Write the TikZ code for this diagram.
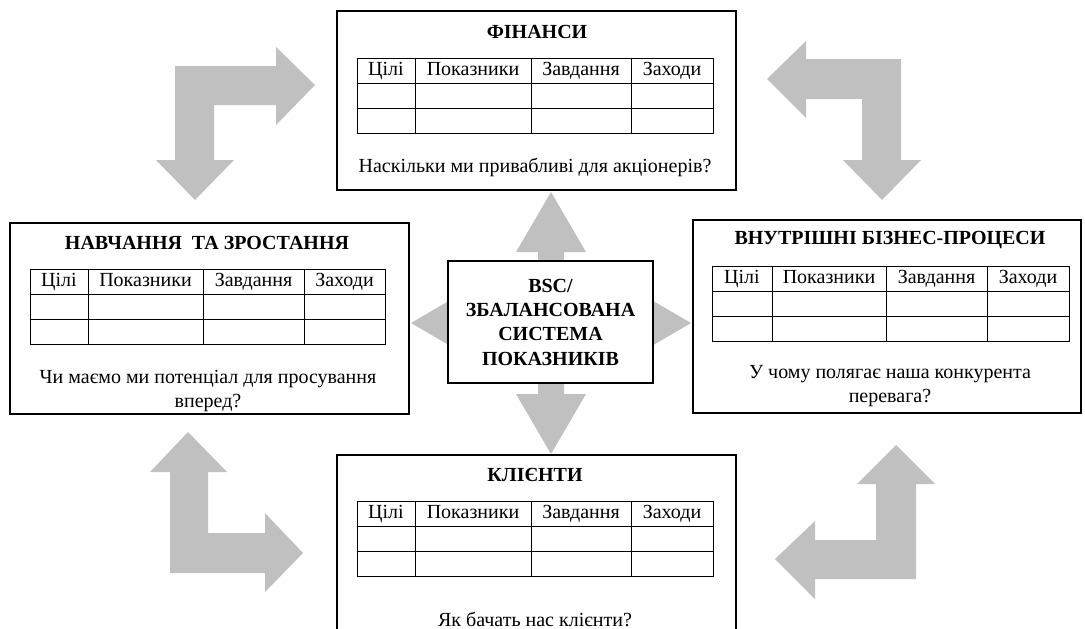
\documentclass[tikz,border=0pt]{standalone}
\usepackage{fontspec}
\setmainfont{Liberation Serif}
\usepackage{array}
\usetikzlibrary{positioning}

\definecolor{arrowgray}{HTML}{C0C0C0}
\newcolumntype{C}[1]{>{\centering\arraybackslash}p{#1}}
\newcommand{\bsctable}[4]{%
  \setlength{\tabcolsep}{0pt}\setlength{\arrayrulewidth}{0.6pt}%
  \begin{tabular}{|C{#1}|C{#2}|C{#3}|C{#4}|}
    \hline
    Цілі & Показники & Завдання & Заходи \\ \hline
     & & & \\ \hline
     & & & \\ \hline
  \end{tabular}}

\tikzset{
  panel/.style={draw, line width=0.8pt, inner sep=0pt},
  heading/.style={font=\fontsize{12}{14.4}\selectfont\bfseries, inner sep=0pt},
  question/.style={align=center, inner sep=0pt},
  grid/.style={inner sep=0pt},
  blockarrow/.style={fill=arrowgray},
}

\begin{document}
\begin{tikzpicture}[x=0.6pt, y=-0.6pt, font=\fontsize{12}{14.4}\selectfont]
    \useasboundingbox (0,0) rectangle (1085,628);
    \clip (0,0) rectangle (1085,628);

    % corner arrows
    \fill[blockarrow] (195,200) -- (234,160) -- (214,160) -- (214,105) -- (276,105) -- (276,125)
        -- (315,85) -- (276,47) -- (276,66) -- (175,66) -- (175,160) -- (156,160) -- cycle;
    \fill[blockarrow] (767,79) -- (806,41) -- (806,59) -- (901,59) -- (901,160) -- (921,160)
        -- (882,200) -- (843,160) -- (862,160) -- (862,99) -- (806,99) -- (806,118) -- cycle;
    \fill[blockarrow] (188,432) -- (227,472) -- (208,472) -- (208,533) -- (265,533) -- (265,513)
        -- (303,553) -- (265,592) -- (265,573) -- (170,573) -- (170,472) -- (150,472) -- cycle;
    \fill[blockarrow] (896,445) -- (935,484) -- (916,484) -- (916,579) -- (815,579) -- (815,599)
        -- (775,559) -- (815,521) -- (815,540) -- (876,540) -- (876,484) -- (857,484) -- cycle;

    % four-way arrow behind the centre
    \fill[blockarrow] (551,192) -- (586,252) -- (564,252) -- (564,310) -- (631,310) -- (631,288)
        -- (691,323) -- (631,358) -- (631,336) -- (564,336) -- (564,394) -- (586,394)
        -- (551,454) -- (516,394) -- (538,394) -- (538,336) -- (471,336) -- (471,358)
        -- (411,323) -- (471,288) -- (471,310) -- (538,310) -- (538,252) -- (516,252) -- cycle;

    % perspectives
    \node[panel, fill=white, minimum width=239.4pt, minimum height=107.4pt] (fin) at (536.5,100.5) {};
    \node[heading] (fintitle) at (537,32) {ФІНАНСИ};
    \node[grid] (fintab) at (535,95.5) {\bsctable{34.2pt}{69pt}{59.4pt}{48.6pt}};
    \node[question] (finq) at (535,167) {Наскільки ми привабливі для акціонерів?};

    \node[panel, fill=white, minimum width=239.4pt, minimum height=114.6pt] (learn) at (209.5,318.5) {};
    \node[heading] (learntitle) at (207,243) {НАВЧАННЯ\ \ ТА ЗРОСТАННЯ};
    \node[grid] (learntab) at (207.5,307) {\bsctable{34.2pt}{68.4pt}{60pt}{48pt}};
    \node[question] (learnq) at (208,391) {Чи маємо ми потенціал для просування\\вперед?};

    \node[panel, fill=white, minimum width=232.8pt, minimum height=115.8pt] (proc) at (887,316.5) {};
    \node[heading] (proctitle) at (890,240) {ВНУТРІШНІ БІЗНЕС-ПРОЦЕСИ};
    \node[grid] (proctab) at (890.5,304) {\bsctable{35.4pt}{67.8pt}{60pt}{48.6pt}};
    \node[question] (procq) at (890,386.5) {У чому полягає наша конкурента\\перевага?};

    \node[panel, fill=white, minimum width=239.4pt, minimum height=107.4pt] (cli) at (536.5,544.5) {};
    \node[heading] (clititle) at (535,475) {КЛІЄНТИ};
    \node[grid] (clitab) at (535,539) {\bsctable{34.2pt}{69pt}{59.4pt}{48.6pt}};
    \node[question] (cliq) at (535,619) {Як бачать нас клієнти?};

    % centre
    \node[panel, fill=white, minimum width=123pt, minimum height=73.2pt, align=center,
          font=\fontsize{12}{14.6}\selectfont\bfseries] (bsc) at (550.5,322)
        {BSC/\\ЗБАЛАНСОВАНА\\СИСТЕМА\\ПОКАЗНИКІВ};
\end{tikzpicture}
\end{document}
